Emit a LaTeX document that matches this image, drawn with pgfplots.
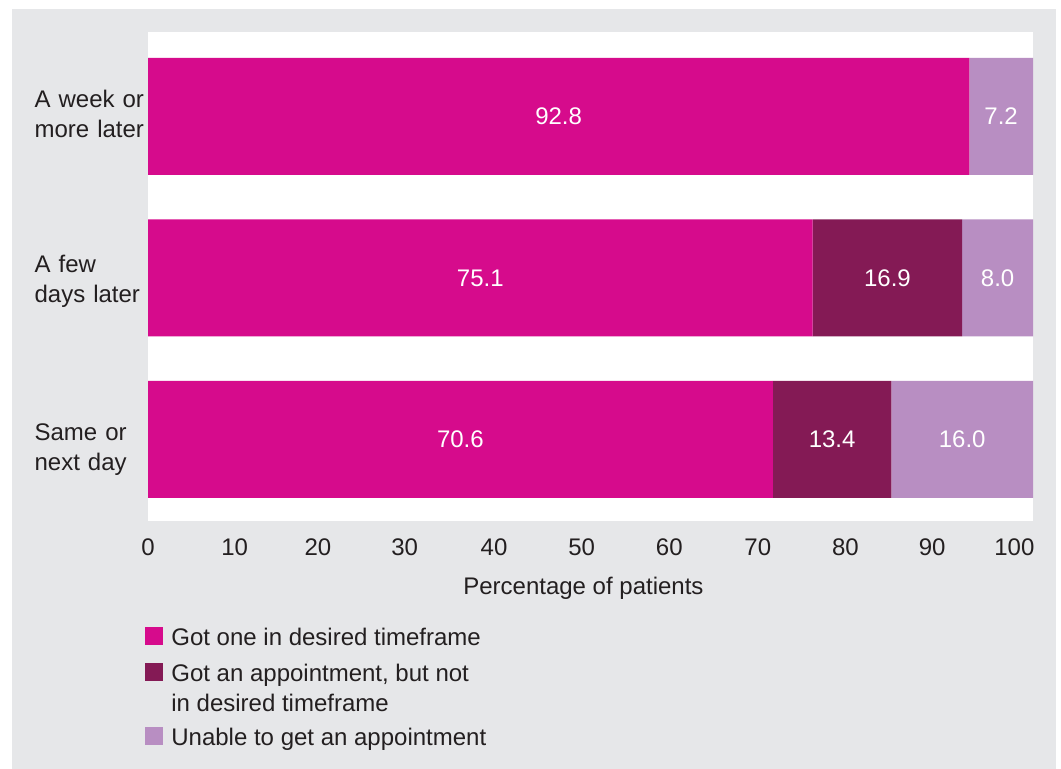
\documentclass[border=0pt]{standalone}
\usepackage{fontspec}
\setmainfont{Liberation Sans}
\usepackage{pgfplots}
\usepackage{pgfplotstable}
\pgfplotsset{compat=1.18}
\definecolor{bg}{HTML}{E6E7E9}
\definecolor{cA}{HTML}{D60B8C}
\definecolor{cB}{HTML}{841A55}
\definecolor{cC}{HTML}{B88EC2}
\definecolor{txt}{HTML}{231F20}

\pgfplotstableread{
cat got notdes unable
0 70.6 13.4 16.0
1 75.1 16.9 8.0
2 92.8 0 7.2
}\datatable

\pgfplotstableread{
x y label
35.3 0 70.6
77.3 0 13.4
92.0 0 16.0
37.55 1 75.1
83.55 1 16.9
96.0 1 8.0
46.4 2 92.8
96.4 2 7.2
}\labeltable

\begin{document}
\begin{tikzpicture}[font=\fontsize{12}{15}\selectfont, text=txt]
\fill[white] (0,0) rectangle (530.5pt,-384.5pt);
\fill[bg] (6pt,-4.5pt) rectangle (528pt,-384.5pt);
\begin{axis}[
  at={(74pt,-260.5pt)}, anchor=south west,
  scale only axis, width=442.5pt, height=244.5pt,
  xbar stacked, bar width=58.5pt,
  xmin=0, xmax=100, ymin=-0.505, ymax=2.523,
  axis background/.style={fill=white},
  axis line style={draw=none},
  major tick length=0pt,
  xtick={0,9.8,19.2,29.0,39.1,49.0,58.9,68.9,78.8,88.6,97.9},
  xticklabels={0,10,20,30,40,50,60,70,80,90,100},
  ytick={-0.041,1.0034,2.020},
  yticklabels={{Same or\\next day},{A few\\days later},{A week or\\more later}},
  /pgf/number format/assume math mode=true,
  xticklabel style={inner sep=0pt, anchor=north, yshift=-8.5pt},
  yticklabel style={align=left, text width=62pt, text depth=0pt, inner sep=0pt, anchor=east, xshift=5.5pt, yshift=7pt},
  xlabel={Percentage of patients},
  xlabel style={at={(axis description cs:0.492,0)}, anchor=north, yshift=-28pt, inner sep=0pt},
  legend image code/.code={\fill[#1] (0pt,0pt) rectangle (9pt,9pt);},
  legend style={at={(axis description cs:-0.0034,-0.2168)}, anchor=north west,
    draw=none, fill=none, inner sep=0pt, row sep=0pt, column sep=4pt,
    cells={anchor=base west},
    nodes={inner sep=0pt, text depth=0pt}},
]
\addplot[fill=cA, draw=none] table[x=got, y=cat] {\datatable};
\addlegendentry{\rule{0pt}{9pt}Got one in desired timeframe}
\addplot[fill=cB, draw=none] table[x=notdes, y=cat] {\datatable};
\addlegendentry{\rule{0pt}{18pt}Got an appointment, but not}
\addlegendimage{empty legend}
\addlegendentry{\rule{0pt}{15pt}in desired timeframe}
\addplot[fill=cC, draw=none] table[x=unable, y=cat] {\datatable};
\addlegendentry{\rule{0pt}{17pt}Unable to get an appointment}
\end{axis}
\begin{axis}[
  at={(74pt,-260.5pt)}, anchor=south west,
  scale only axis, width=442.5pt, height=244.5pt,
  xmin=0, xmax=100, ymin=-0.505, ymax=2.523,
  hide axis,
]
\addplot[draw=none, mark=none, nodes near coords, point meta=explicit symbolic,
  every node near coord/.style={text=white, anchor=center, inner sep=0pt}]
  table[x=x, y=y, meta=label] {\labeltable};
\end{axis}
\end{tikzpicture}
\end{document}
